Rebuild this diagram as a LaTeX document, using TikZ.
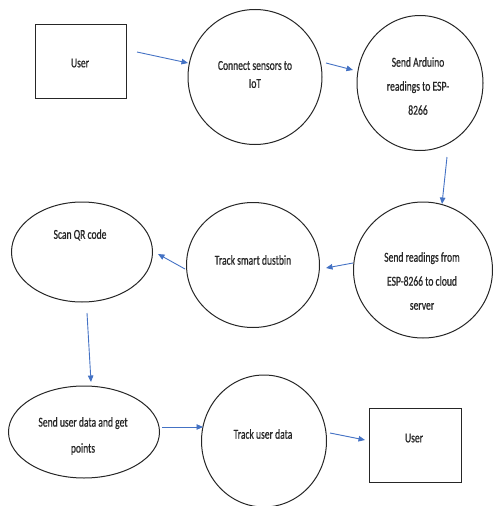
\documentclass[tikz,border=0pt]{standalone}
\usepackage{fontspec}
\setmainfont{Carlito}[FakeStretch=0.7,FakeBold=0.6]
\usetikzlibrary{arrows.meta,shapes.geometric}
\definecolor{arrowblue}{HTML}{4472C4}
\begin{document}
\begin{tikzpicture}[x=1pt,y=-1pt,
  shapeline/.style={draw=black!85,line width=1pt},
  lbl/.style={inner sep=0pt,align=center,text=black!85,font=\fontsize{13.7}{24}\selectfont},
  flow/.style={draw=arrowblue,line width=0.9pt,-{Triangle[length=6.5pt,width=5.5pt]}}]
\useasboundingbox (0,0) rectangle (493,506);
% shapes
\draw[shapeline] (35,24) rectangle (126,98);
\node[shapeline,ellipse,minimum width=134pt,minimum height=135pt,inner sep=0pt] (conn) at (255,77) {};
\node[shapeline,ellipse,minimum width=126pt,minimum height=135pt,inner sep=0pt] (ard) at (420,83) {};
\node[shapeline,ellipse,minimum width=139pt,minimum height=136pt,inner sep=0pt] (cloud) at (423,270) {};
\node[shapeline,ellipse,minimum width=133pt,minimum height=125pt,inner sep=0pt] (dust) at (253,265) {};
\node[shapeline,ellipse,minimum width=141pt,minimum height=100pt,inner sep=0pt] (qr) at (82,252) {};
\node[shapeline,ellipse,minimum width=151pt,minimum height=92pt,inner sep=0pt] (senddata) at (84,432) {};
\node[shapeline,ellipse,minimum width=125pt,minimum height=132pt,inner sep=0pt] (trackdata) at (264,441) {};
\draw[shapeline] (369,408) rectangle (461,482);
% texts
\node[lbl] (tUserA) at (80,63) {User};
\node[lbl,font=\fontsize{13.7}{18}\selectfont] (tConn) at (255,74.5) {Connect sensors to\\IoT};
\node[lbl] (tArd) at (418,86) {Send Arduino\\readings to ESP-\\8266};
\node[lbl] (tCloud) at (422,281) {Send readings from\\ESP-8266 to cloud\\server};
\node[lbl] (tDust) at (253,260) {Track smart dustbin};
\node[lbl] (tQr) at (80,235) {Scan QR code};
\node[lbl,font=\fontsize{13.7}{26}\selectfont] (tSend) at (83,436) {Send user data and get\\points};
\node[lbl] (tTrack) at (263,434) {Track user data};
\node[lbl] (tUserB) at (414,438) {User};
% arrow end points
\coordinate (a1s) at (137,52);  \coordinate (a1e) at (188,63);
\coordinate (a2s) at (326,63);  \coordinate (a2e) at (353,70);
\coordinate (a3s) at (447,157); \coordinate (a3e) at (442,204);
\coordinate (a4s) at (353,263); \coordinate (a4e) at (326,268);
\coordinate (a5s) at (185,269); \coordinate (a5e) at (158,254);
\coordinate (a6s) at (87,313);  \coordinate (a6e) at (91,382);
\coordinate (a7s) at (162,427); \coordinate (a7e) at (203,427);
\coordinate (a8s) at (330,433); \coordinate (a8e) at (365,440);
\draw[flow] (a1s) -- (a1e);
\draw[flow] (a2s) -- (a2e);
\draw[flow] (a3s) -- (a3e);
\draw[flow] (a4s) -- (a4e);
\draw[flow] (a5s) -- (a5e);
\draw[flow] (a6s) -- (a6e);
\draw[flow] (a7s) -- (a7e);
\draw[flow] (a8s) -- (a8e);
\end{tikzpicture}
\end{document}
